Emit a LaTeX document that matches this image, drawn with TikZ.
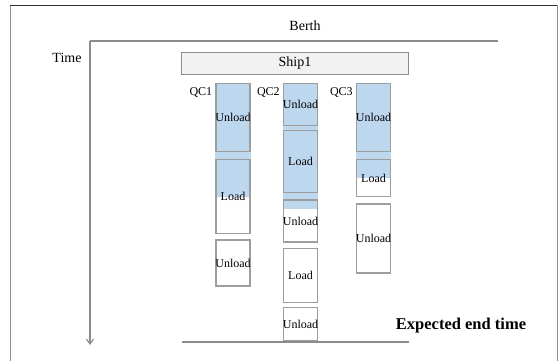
\documentclass[tikz,border=0pt]{standalone}
\usepackage{fontspec}
\setmainfont{Liberation Serif}
\usetikzlibrary{arrows.meta, positioning, backgrounds}

\definecolor{donefill}{RGB}{189,215,238}
\definecolor{shipfill}{RGB}{242,242,242}
\definecolor{linegray}{RGB}{140,140,140}

% text that may run over the edge of a narrow box
\newcommand{\overrun}[1]{\makebox[0pt]{#1}}

\begin{document}
\begin{tikzpicture}[
    x=1pt, y=1pt,
    >={Straight Barb[length=5pt, width=7pt]},
    axis/.style={draw=linegray, line width=1.1pt},
    job/.style={draw=linegray!85, line width=1.2pt, minimum width=34pt, inner sep=0pt, font=\fontsize{12}{14}\selectfont},
    qclabel/.style={anchor=north east, inner sep=0pt, font=\fontsize{12}{14}\selectfont},
    done/.style={fill=donefill},
    txt/.style={font=\fontsize{14}{16}\selectfont}
]
\useasboundingbox (0,0) rectangle (559,-361);

% 1. Frame and axes
\draw[linegray, line width=1pt] (10,-361) -- (10,-6) -- (557,-6) -- (557,-361);
\draw[black!80, line width=1pt] (10,-6) -- (557,-6);

\coordinate (Origin) at (90,-41);
\coordinate (BerthEnd) at (498,-41);
\coordinate (TimeEnd) at (90,-345);
\draw[axis] (Origin) -- (BerthEnd);
\draw[axis, ->] (Origin) -- (TimeEnd);

\node[txt] (Berth) at (305,-26) {Berth};
\node[txt] (Time) at (67,-58) {Time};

% 2. Ship
\node[draw=linegray, line width=1.2pt, fill=shipfill, minimum width=227pt, minimum height=22pt, txt] (Ship) at (295,-63.5) {Ship1};

% 3. Quay cranes
% QC1
\node[job, minimum height=68pt, anchor=north] (QaUnload) at (233,-83) {\overrun{Unload}};
\node[job, minimum height=74pt, below=7pt of QaUnload] (QaLoad) {\overrun{Load}};
\node[job, minimum height=46pt, below=5pt of QaLoad] (QaUnloadB) {\overrun{Unload}};
\node[qclabel] (QCa) at ([xshift=-3pt, yshift=-4pt]QaUnload.north west) {QC1};

% QC2
\node[job, minimum height=42pt, anchor=north] (QbUnload) at (300.5,-83) {\overrun{Unload}};
\node[job, minimum height=62pt, below=4pt of QbUnload] (QbLoad) {\overrun{Load}};
\node[job, minimum height=42pt, below=6pt of QbLoad] (QbUnloadB) {\overrun{Unload}};
\node[job, minimum height=54pt, below=5pt of QbUnloadB] (QbLoadB) {\overrun{Load}};
\node[job, minimum height=33pt, below=4pt of QbLoadB] (QbUnloadC) {\overrun{Unload}};
\node[qclabel] (QCb) at ([xshift=-3pt, yshift=-4pt]QbUnload.north west) {QC2};

% QC3
\node[job, minimum height=68pt, anchor=north] (QcUnload) at (373.5,-83) {\overrun{Unload}};
\node[job, minimum height=37pt, below=7pt of QcUnload] (QcLoad) {\overrun{Load}};
\node[job, minimum height=69pt, below=6pt of QcLoad] (QcUnloadB) {\overrun{Unload}};
\node[qclabel] (QCc) at ([xshift=-3pt, yshift=-4pt]QcUnload.north west) {QC3};

% Progress so far
\begin{scope}[on background layer]
\fill[done] (QaUnload.north west) rectangle (QaLoad.east |- 0,-197);
\fill[done] (QbUnload.north west) rectangle (QbLoad.east |- 0,-209);
\fill[done] (QcUnload.north west) rectangle (QcLoad.east |- 0,-178);
\end{scope}

% 4. End time
\coordinate (EndLeft) at (182,-342);
\coordinate (EndRight) at (409,-342);
\draw[axis] (EndLeft) -- (EndRight);
\node[font=\fontsize{16.5}{19}\selectfont\bfseries] (EndTime) at (461,-326) {Expected end time};

\end{tikzpicture}
\end{document}
